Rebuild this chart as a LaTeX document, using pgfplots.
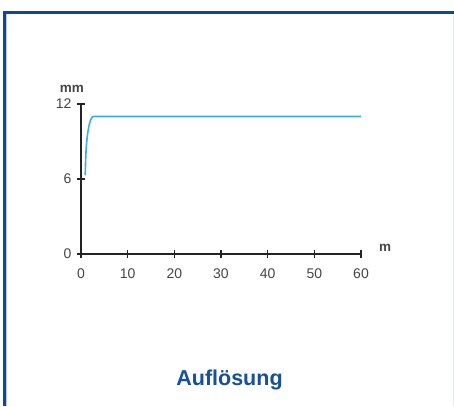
\documentclass[border=0pt]{standalone}
\usepackage{pgfplots}
\pgfplotsset{compat=1.18}
\usepackage{fontspec}
\setmainfont{Liberation Sans}
\definecolor{frameblue}{RGB}{12,74,150}
\definecolor{titleblue}{RGB}{22,80,155}
\definecolor{curveblue}{RGB}{60,175,220}
\definecolor{axisgrey}{RGB}{35,35,35}
\definecolor{labelgrey}{RGB}{70,70,70}
\begin{document}
\begin{tikzpicture}[x=1pt,y=1pt]
  % page = 454 x 406 px, one px per pt, y measured from the bottom
  \path[use as bounding box] (0,0) rectangle (454,406);
  \fill[white] (0,0) rectangle (454,406);
  \draw[frameblue, line width=3pt] (4.5,0) -- (4.5,393.5) -- (454,393.5);
  \draw[frameblue!30, line width=1pt] (6.5,0) -- (6.5,391.5);
  \draw[blue!10, line width=1pt] (453.5,0) -- (453.5,392);

  \begin{axis}[
      at={(81pt,152pt)}, anchor=south west,
      scale only axis,
      width=280pt, height=150pt,
      xmin=0, xmax=60, ymin=0, ymax=12,
      axis x line=bottom, axis y line=left,
      axis line style={-, axisgrey, line width=1.6pt},
      xtick={0,10,...,60}, ytick={0,6,12},
      tick align=center,
      major tick length=8pt,
      tick style={axisgrey, line width=1.3pt},
      every tick label/.append style={font=\fontsize{14}{16}\selectfont, text=labelgrey},
      xticklabel style={yshift=-7pt},
      yticklabel style={xshift=-2pt},
      /pgf/number format/assume math mode=true,
      clip=false,
    ]
    \addplot[curveblue, line width=1.6pt, line join=round] coordinates {
      (0.9,6.3) (1.0,7.6) (1.1,8.4) (1.25,9.1) (1.4,9.6) (1.6,10.05)
      (1.8,10.4) (2.05,10.7) (2.3,10.9) (2.6,11.0) (60,11.0)
    };
  \end{axis}

  \node[text=labelgrey, font=\bfseries\fontsize{13.5}{15}\selectfont] at (72,317) {mm};
  \node[text=labelgrey, font=\bfseries\fontsize{13.5}{15}\selectfont] at (385,158) {m};
  \node[text=titleblue, font=\bfseries\fontsize{21.5}{25}\selectfont] at (229.5,26) {Auflösung};
\end{tikzpicture}
\end{document}
